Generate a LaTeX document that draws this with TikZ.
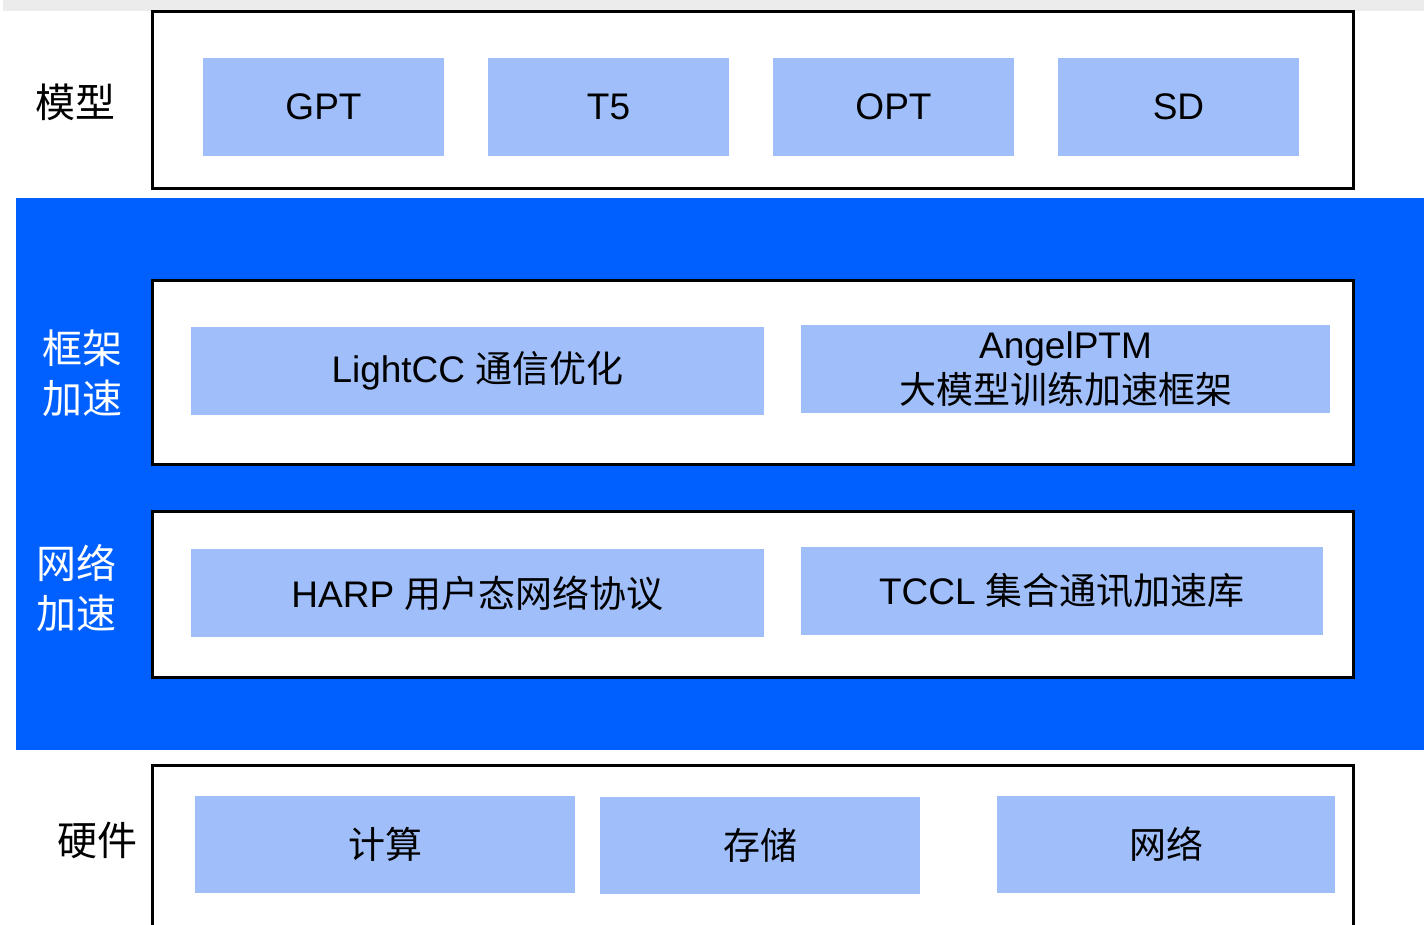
\documentclass[tikz,border=0pt]{standalone}
\usepackage{fontspec}
\setmainfont{Liberation Sans}
\newfontfamily\cjk{Noto Sans CJK SC}
\usetikzlibrary{positioning}
\definecolor{StackBlue}{RGB}{0,96,255}
\definecolor{StackLight}{RGB}{160,190,249}
\definecolor{StackGray}{RGB}{236,236,236}
\tikzset{
  layer/.style={rectangle, draw=black, line width=1.5pt, fill=white,
    inner sep=0pt},
  block/.style={rectangle, fill=StackLight, inner sep=0pt, align=center,
    font=\fontsize{18.5}{22.5}\selectfont},
  side/.style={align=center, inner sep=0pt,
    font=\cjk\fontsize{20}{25}\selectfont}
}
\begin{document}
\begin{tikzpicture}[x=0.5pt, y=-0.5pt]
  \useasboundingbox (0,0) rectangle (1424,925);
  \fill[StackGray] (3,0) rectangle (1424,11);
  % blue band behind frame and network layers
  \node[rectangle, fill=StackBlue, inner sep=0pt, minimum width=704pt,
    minimum height=276pt] (band) at (720,474) {};
  % model layer
  \node[layer, minimum width=600.5pt, minimum height=88.5pt] (modelLayer)
    at (752.5,100.5) {};
  \node[side] (modelLabel) at (75,102) {模型};
  \foreach \name/\x in {GPT/323.5, T5/608.5, OPT/893.5, SD/1178.5}
    \node[block, minimum width=120.5pt, minimum height=49pt] (m\name)
      at (\x,107) {\name};
  % frame layer
  \node[layer, minimum width=600.5pt, minimum height=91.5pt] (frameLayer)
    at (752.5,372.5) {};
  \node[side, text=white] (frameLabel) at (82,373) {框架\\加速};
  \node[block, minimum width=286.5pt, minimum height=44pt] (lightcc)
    at (477.5,371) {LightCC {\cjk 通信优化}};
  \node[block, minimum width=264.5pt, minimum height=44pt] (angel)
    at (1065.5,369) {AngelPTM\\{\cjk 大模型训练加速框架}};
  % network layer
  \node[layer, minimum width=600.5pt, minimum height=83pt] (netLayer)
    at (752.5,594) {};
  \node[side, text=white] (netLabel) at (76,588) {网络\\加速};
  \node[block, minimum width=286.5pt, minimum height=44pt] (harp)
    at (477.5,593) {HARP {\cjk 用户态网络协议}};
  \node[block, minimum width=261pt, minimum height=44pt] (tccl)
    at (1062,591) {TCCL {\cjk 集合通讯加速库}};
  % hardware layer, cut off at the bottom
  \draw[line width=1.5pt] (152,930) |- (1353,765) -- (1353,930);
  \node[side] (hwLabel) at (97,840) {硬件};
  \node[block, minimum width=190pt, minimum height=48.5pt] (compute)
    at (385,844.5) {\cjk 计算};
  \node[block, minimum width=160pt, minimum height=48.5pt] (storage)
    at (760,845.5) {\cjk 存储};
  \node[block, minimum width=169pt, minimum height=48.5pt] (network)
    at (1166,844.5) {\cjk 网络};
\end{tikzpicture}
\end{document}
